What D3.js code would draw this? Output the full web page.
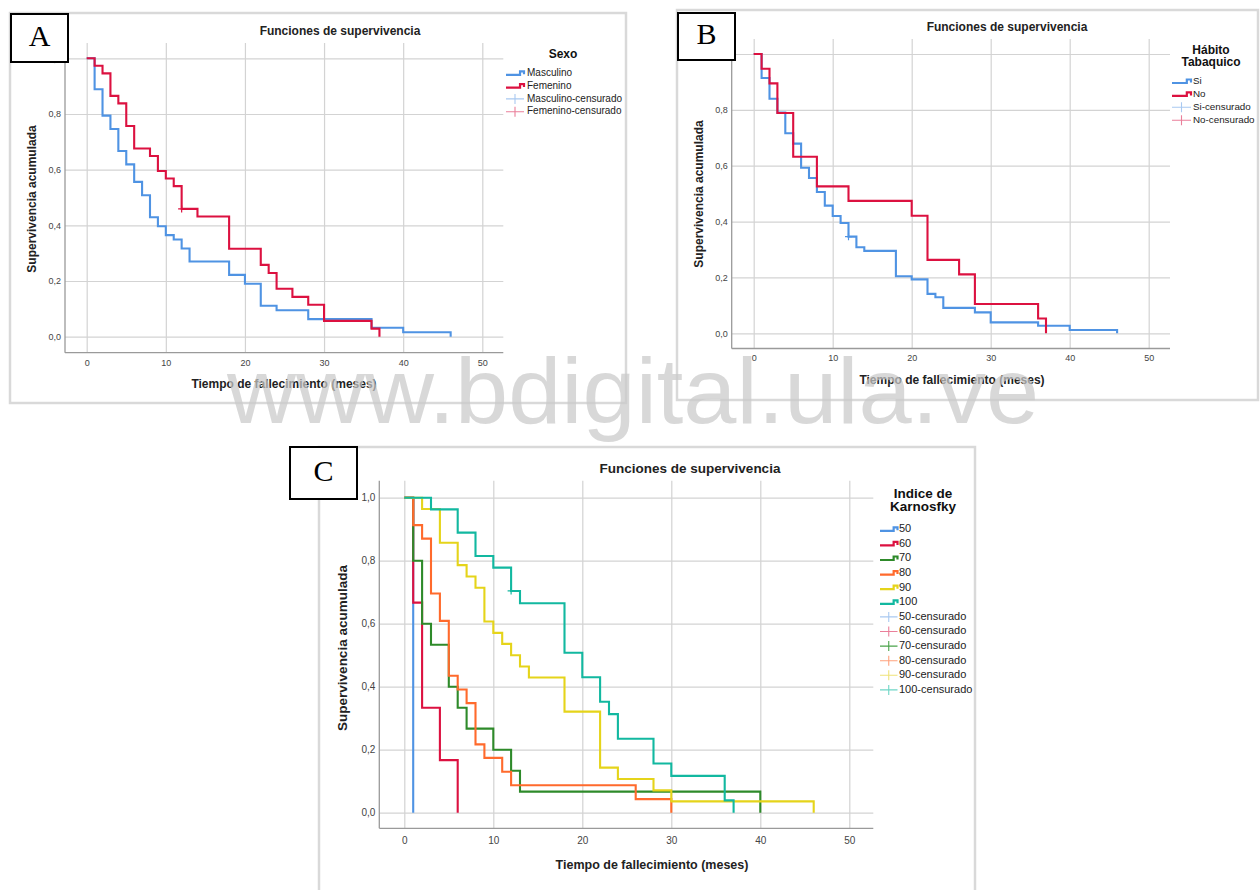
<!DOCTYPE html>
<html>
<head>
<meta charset="utf-8">
<script src="https://cdn.jsdelivr.net/npm/d3@7"></script>
<style>
  body { margin: 0; background: #fff; }
  svg { display: block; }
</style>
</head>
<body>
<svg id="fig" width="1260" height="890"></svg>
<script>
// ---------- shared axis values ----------
const timeTicks = [0, 10, 20, 30, 40, 50];
const survTicks = [0, 0.2, 0.4, 0.6, 0.8, 1.0];

// ---------- A: Sexo ----------
const masculinoT = [0, 1, 2, 3, 4, 5, 6, 7, 8, 9, 10, 11, 12, 13, 18, 20, 22, 24, 28, 36, 40, 46];
const masculinoS = [1, 0.889, 0.794, 0.746, 0.667, 0.619, 0.556, 0.508, 0.429, 0.397, 0.365, 0.349, 0.317, 0.270, 0.222, 0.190, 0.111, 0.095, 0.063, 0.032, 0.016, 0];
const femeninoT = [0, 1, 2, 3, 4, 5, 6, 8, 9, 10, 11, 12, 14, 18, 22, 23, 24, 26, 28, 30, 36, 37];
const femeninoS = [1, 0.973, 0.946, 0.865, 0.838, 0.757, 0.676, 0.649, 0.595, 0.568, 0.541, 0.459, 0.432, 0.316, 0.258, 0.229, 0.172, 0.143, 0.115, 0.057, 0.029, 0];
const femeninoCensT = [12];
const femeninoCensS = [0.459];
const sexoLabels = ["Masculino", "Femenino", "Masculino-censurado", "Femenino-censurado"];

// ---------- B: Hábito tabáquico ----------
const siT = [0, 1, 2, 3, 4, 5, 6, 7, 8, 9, 10, 11, 12, 13, 14, 18, 20, 22, 23, 24, 28, 30, 36, 40, 46];
const siS = [1, 0.914, 0.840, 0.790, 0.716, 0.679, 0.593, 0.556, 0.506, 0.457, 0.420, 0.395, 0.346, 0.308, 0.295, 0.204, 0.193, 0.141, 0.129, 0.091, 0.075, 0.039, 0.027, 0.012, 0];
const noT = [0, 1, 2, 3, 5, 8, 12, 20, 22, 26, 28, 36, 37];
const noS = [1, 0.947, 0.895, 0.789, 0.632, 0.526, 0.474, 0.421, 0.263, 0.211, 0.105, 0.053, 0];
const siCensT = [12];
const siCensS = [0.346];
const tabacoLabels = ["Si", "No", "Si-censurado", "No-censurado"];

// ---------- C: Índice de Karnofsky ----------
const k50T = [0, 1];
const k50S = [1, 0];
const k60T = [0, 1, 2, 4, 6];
const k60S = [1, 0.667, 0.333, 0.167, 0];
const k70T = [0, 1, 2, 3, 5, 6, 7, 10, 12, 13, 40];
const k70S = [1, 0.8, 0.6, 0.533, 0.4, 0.333, 0.267, 0.2, 0.133, 0.067, 0];
const k80T = [0, 1, 2, 3, 4, 5, 6, 7, 8, 9, 11, 12, 26, 30];
const k80S = [1, 0.913, 0.870, 0.696, 0.609, 0.435, 0.391, 0.348, 0.217, 0.174, 0.130, 0.087, 0.043, 0];
const k90T = [0, 2, 4, 6, 7, 8, 9, 10, 11, 12, 13, 14, 18, 22, 24, 28, 30, 46];
const k90S = [1, 0.964, 0.857, 0.786, 0.750, 0.714, 0.607, 0.571, 0.536, 0.500, 0.464, 0.429, 0.321, 0.143, 0.107, 0.071, 0.036, 0];
const k100T = [0, 3, 6, 8, 10, 12, 13, 18, 20, 22, 23, 24, 28, 30, 36, 37];
const k100S = [1, 0.963, 0.889, 0.815, 0.778, 0.704, 0.665, 0.508, 0.430, 0.352, 0.313, 0.235, 0.156, 0.117, 0.039, 0];
const k100CensT = [12];
const k100CensS = [0.704];
const karnofskyLabels = ["50", "60", "70", "80", "90", "100",
  "50-censurado", "60-censurado", "70-censurado", "80-censurado", "90-censurado", "100-censurado"];

// ---------- colours ----------
const cBlue = "#4f93e3", cRed = "#dc1140", cGreen = "#2e8a2a",
      cOrange = "#ff6a2c", cYellow = "#e5d41a", cTeal = "#12b8a0";
const cBlueC = "#a9c9f1", cRedC = "#ea7f9a", cGreenC = "#4aa34a",
      cOrangeC = "#ffa27e", cYellowC = "#efe37a", cTealC = "#6fd6c6";
const gridColor = "#d3d3d3", axisColor = "#9a9a9a", frameColor = "#d9d9d9";
const FONT = "'Liberation Sans', Arial, sans-serif";

const svg = d3.select("#fig");
const comma = v => d3.format(".1f")(v).replace(".", ",");
const zipSeries = (T, S) => T.map((t, i) => ({ t: t, s: S[i] }));

// outer frames of the three figures
function frame(x0, y0, x1, y1) {
  svg.append("rect").attr("x", x0).attr("y", y0).attr("width", x1 - x0).attr("height", y1 - y0)
    .attr("fill", "none").attr("stroke", frameColor).attr("stroke-width", 2.5);
}
frame(10, 13, 626, 403);
frame(677, 10, 1258, 400);
frame(319, 447, 975, 900);

function drawPanel(cfg) {
  const g = svg.append("g");
  const x = d3.scaleLinear().domain([0, 50]).range([cfg.x0, cfg.x50]);
  const y = d3.scaleLinear().domain([0, 1]).range([cfg.y0, cfg.y1]);

  // vertical grid and time labels
  const gx = g.append("g").attr("transform", `translate(0,${cfg.bottom})`)
    .call(d3.axisBottom(x).tickValues(timeTicks).tickSize(-(cfg.bottom - cfg.top))
      .tickPadding(cfg.xPad).tickFormat(d3.format("d")));
  gx.select(".domain").remove();
  gx.selectAll(".tick line").attr("stroke", gridColor).attr("stroke-width", 1.2);
  gx.selectAll(".tick text").attr("font-family", FONT).attr("font-size", cfg.tickFont).attr("fill", "#444");

  // horizontal grid and survival labels
  const gy = g.append("g").attr("transform", `translate(${cfg.axisX},0)`)
    .call(d3.axisLeft(y).tickValues(survTicks).tickSize(-(cfg.right - cfg.axisX))
      .tickPadding(cfg.yPad).tickFormat(comma));
  gy.select(".domain").remove();
  gy.selectAll(".tick line").attr("stroke", gridColor).attr("stroke-width", 1.2);
  gy.selectAll(".tick text").attr("font-family", FONT).attr("font-size", cfg.tickFont).attr("fill", "#444");

  // axis lines
  g.append("line").attr("x1", cfg.axisX).attr("x2", cfg.axisX).attr("y1", cfg.top).attr("y2", cfg.bottom)
    .attr("stroke", axisColor).attr("stroke-width", 1.3);
  g.append("line").attr("x1", cfg.axisX).attr("x2", cfg.right).attr("y1", cfg.bottom).attr("y2", cfg.bottom)
    .attr("stroke", axisColor).attr("stroke-width", 1.3);

  // survival step curves
  const line = d3.line().x(d => x(d.t)).y(d => y(d.s)).curve(d3.curveStepAfter);
  cfg.series.forEach(s => {
    g.append("path").datum(zipSeries(s.T, s.S)).attr("d", line)
      .attr("fill", "none").attr("stroke", s.color).attr("stroke-width", 2.1)
      .attr("stroke-linejoin", "miter");
  });
  // censored observations
  cfg.censored.forEach(c => {
    zipSeries(c.T, c.S).forEach(d => {
      const cx = x(d.t), cy = y(d.s);
      g.append("path").attr("d", `M${cx - 3.5},${cy}H${cx + 3.5}M${cx},${cy - 3.5}V${cy + 3.5}`)
        .attr("stroke", c.color).attr("stroke-width", 1.2);
    });
  });

  // titles
  g.append("text").attr("x", cfg.titleX).attr("y", cfg.titleY).attr("text-anchor", "middle")
    .attr("dominant-baseline", "middle").attr("font-family", FONT).attr("font-weight", "bold")
    .attr("font-size", cfg.titleFont).attr("fill", "#222").text("Funciones de supervivencia");
  g.append("text").attr("x", cfg.xTitleX).attr("y", cfg.xTitleY).attr("text-anchor", "middle")
    .attr("dominant-baseline", "middle").attr("font-family", FONT).attr("font-weight", "bold")
    .attr("font-size", cfg.xTitleFont).attr("fill", "#222").text("Tiempo de fallecimiento (meses)");
  g.append("text").attr("transform", `translate(${cfg.yTitleX},${cfg.yTitleY}) rotate(-90)`)
    .attr("text-anchor", "middle").attr("dominant-baseline", "middle").attr("font-family", FONT)
    .attr("font-weight", "bold").attr("font-size", cfg.yTitleFont).attr("fill", "#222")
    .text("Supervivencia acumulada");

  // legend
  const L = cfg.legend;
  L.title.forEach((t, i) => {
    g.append("text").attr("x", L.titleX).attr("y", L.titleY + i * L.titleGap).attr("text-anchor", "middle")
      .attr("dominant-baseline", "middle").attr("font-family", FONT).attr("font-weight", "bold")
      .attr("font-size", L.titleFont).attr("fill", "#111").text(t);
  });
  L.labels.forEach((lab, i) => {
    const yy = L.y0 + i * L.step;
    const it = L.items[i];
    if (it.kind === "step") {
      const w = L.x1 - L.x0;
      g.append("path")
        .attr("d", `M${L.x0},${yy + 1.5}H${L.x0 + w * 0.78}V${yy - 2}H${L.x1}V${yy + 1}`)
        .attr("fill", "none").attr("stroke", it.color).attr("stroke-width", 2.2);
    } else {
      const mx = (L.x0 + L.x1) / 2;
      g.append("path").attr("d", `M${L.x0},${yy}H${L.x1}M${mx},${yy - 5}V${yy + 5}`)
        .attr("stroke", it.color).attr("stroke-width", 1.1);
    }
    g.append("text").attr("x", L.textX).attr("y", yy).attr("dominant-baseline", "middle")
      .attr("font-family", FONT).attr("font-size", L.font).attr("fill", "#222").text(lab);
  });
}

// A
drawPanel({
  axisX: 65, x0: 86.7, x50: 482.3, right: 503.3, top: 43, bottom: 352.7, y1: 58.3, y0: 336.7,
  xPad: 7, yPad: 4, tickFont: 9,
  titleX: 340, titleY: 32, titleFont: 12,
  xTitleX: 284, xTitleY: 385, yTitleX: 33, yTitleY: 199, xTitleFont: 12, yTitleFont: 12,
  series: [
    { T: masculinoT, S: masculinoS, color: cBlue },
    { T: femeninoT, S: femeninoS, color: cRed }
  ],
  censored: [{ T: femeninoCensT, S: femeninoCensS, color: cRed }],
  legend: {
    title: ["Sexo"], titleX: 563, titleY: 55, titleGap: 0, titleFont: 12,
    labels: sexoLabels, y0: 73.3, step: 12.8, x0: 506, x1: 524, textX: 527, font: 10,
    items: [{ kind: "step", color: cBlue }, { kind: "step", color: cRed },
            { kind: "cens", color: cBlueC }, { kind: "cens", color: cRedC }]
  }
});

// B
drawPanel({
  axisX: 731.7, x0: 753.7, x50: 1148.7, right: 1170, top: 39, bottom: 348.5, y1: 54, y0: 333.3,
  xPad: 6, yPad: 4, tickFont: 9,
  titleX: 1007, titleY: 28, titleFont: 12,
  xTitleX: 952, xTitleY: 381, yTitleX: 700, yTitleY: 194, xTitleFont: 12, yTitleFont: 12,
  series: [
    { T: siT, S: siS, color: cBlue },
    { T: noT, S: noS, color: cRed }
  ],
  censored: [{ T: siCensT, S: siCensS, color: cBlue }],
  legend: {
    title: ["Hábito", "Tabaquico"], titleX: 1211, titleY: 50.5, titleGap: 12.8, titleFont: 12,
    labels: tabacoLabels, y0: 81.5, step: 12.9, x0: 1172, x1: 1191, textX: 1193, font: 9.8,
    items: [{ kind: "step", color: cBlue }, { kind: "step", color: cRed },
            { kind: "cens", color: cBlueC }, { kind: "cens", color: cRedC }]
  }
});

// C
drawPanel({
  axisX: 379.3, x0: 404.3, x50: 849.3, right: 873.3, top: 480.7, bottom: 828.3, y1: 497.7, y0: 812.7,
  xPad: 9, yPad: 4, tickFont: 10,
  titleX: 690, titleY: 469, titleFont: 13.5,
  xTitleX: 652, xTitleY: 866, yTitleX: 343, yTitleY: 648, xTitleFont: 12.5, yTitleFont: 13.5,
  series: [
    { T: k50T, S: k50S, color: cBlue },
    { T: k60T, S: k60S, color: cRed },
    { T: k70T, S: k70S, color: cGreen },
    { T: k80T, S: k80S, color: cOrange },
    { T: k90T, S: k90S, color: cYellow },
    { T: k100T, S: k100S, color: cTeal }
  ],
  censored: [{ T: k100CensT, S: k100CensS, color: cTeal }],
  legend: {
    title: ["Indice de", "Karnosfky"], titleX: 923, titleY: 494, titleGap: 13.5, titleFont: 13.5,
    labels: karnofskyLabels, y0: 529.3, step: 14.6, x0: 880, x1: 897.5, textX: 899, font: 11,
    items: [{ kind: "step", color: cBlue }, { kind: "step", color: cRed }, { kind: "step", color: cGreen },
            { kind: "step", color: cOrange }, { kind: "step", color: cYellow }, { kind: "step", color: cTeal },
            { kind: "cens", color: cBlueC }, { kind: "cens", color: cRedC }, { kind: "cens", color: cGreenC },
            { kind: "cens", color: cOrangeC }, { kind: "cens", color: cYellowC }, { kind: "cens", color: cTealC }]
  }
});

// figure letters
function letterBox(x0, y0, x1, y1, letter) {
  svg.append("rect").attr("x", x0).attr("y", y0).attr("width", x1 - x0).attr("height", y1 - y0)
    .attr("fill", "#fff").attr("stroke", "#000").attr("stroke-width", 2);
  svg.append("text").attr("x", (x0 + x1) / 2).attr("y", (y0 + y1) / 2 + 1).attr("text-anchor", "middle")
    .attr("dominant-baseline", "middle").attr("font-family", "'Liberation Serif', 'Times New Roman', serif")
    .attr("font-size", 30).attr("fill", "#000").text(letter);
}
letterBox(11, 14, 68, 62, "A");
letterBox(678, 13, 735, 60, "B");
letterBox(290, 447, 357, 499, "C");

// repository watermark
svg.append("text").attr("x", 227).attr("y", 423).attr("font-family", FONT).attr("font-size", 92)
  .attr("textLength", 812).attr("lengthAdjust", "spacingAndGlyphs")
  .attr("fill", "#c9c9c9").attr("fill-opacity", 0.72).text("www.bdigital.ula.ve");
</script>
</body>
</html>
